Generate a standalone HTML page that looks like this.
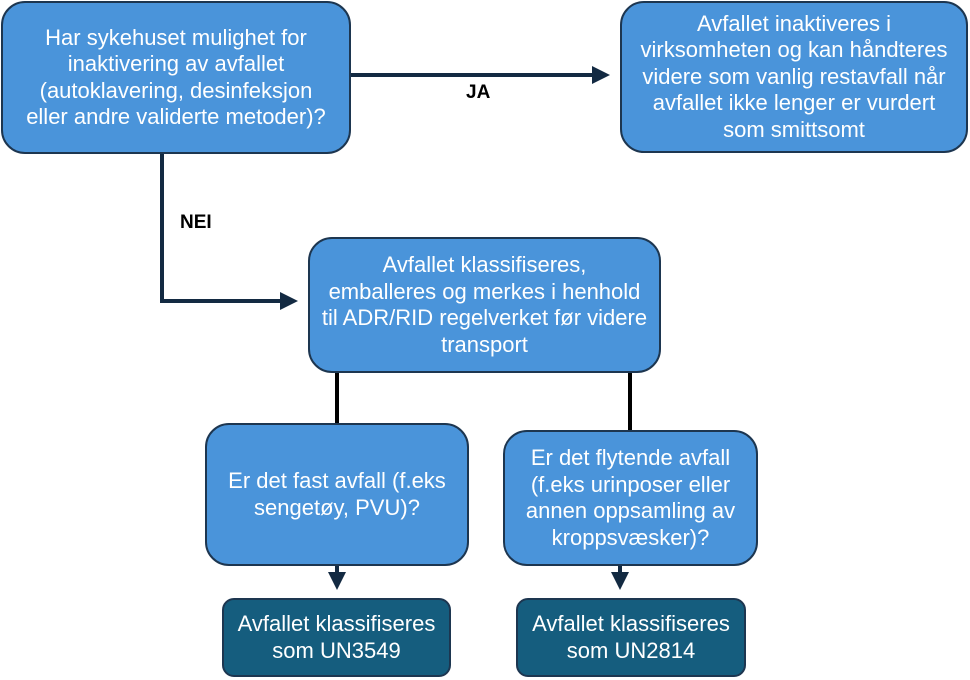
<!DOCTYPE html>
<html><head><meta charset="utf-8"><style>
body{margin:0;width:970px;height:680px;background:#fff;position:relative;overflow:hidden;font-family:"Liberation Sans",sans-serif}
.b{position:absolute;box-sizing:border-box;background:#4a94da;border:2px solid #1d3650;border-radius:24px;color:#fff;display:flex;align-items:center;justify-content:center;text-align:center;font-size:22px;line-height:26.5px;white-space:nowrap}
.d{background:#155d7e;border-radius:12px}
.l{position:absolute;font-weight:bold;font-size:19px;color:#000}
</style></head><body>
<svg width="970" height="680" style="position:absolute;left:0;top:0">
<defs><marker id="a" markerWidth="4.5" markerHeight="4.5" refX="3.5" refY="2.25" orient="auto"><path d="M0,0L4.5,2.25L0,4.5z" fill="#132a42"/></marker></defs>
<g stroke="#132a42" stroke-width="4" fill="none">
<path d="M350,75H606" marker-end="url(#a)"/>
<path d="M162,152V301H294" marker-end="url(#a)"/>
<path d="M337,565V586" marker-end="url(#a)"/>
<path d="M620,565V586" marker-end="url(#a)"/>
</g>
<g stroke="#000" stroke-width="4"><path d="M337,372V426M630,372V432"/></g>
</svg>
<div class="b" style="left:1px;top:1px;width:350px;height:153px">Har sykehuset mulighet for<br>inaktivering av avfallet<br>(autoklavering, desinfeksjon<br>eller andre validerte metoder)?</div>
<div class="b" style="left:620px;top:1px;width:348px;height:152px">Avfallet inaktiveres i<br>virksomheten og kan håndteres<br>videre som vanlig restavfall når<br>avfallet ikke lenger er vurdert<br>som smittsomt</div>
<div class="b" style="left:308px;top:237px;width:353px;height:136px">Avfallet klassifiseres,<br>emballeres og merkes i henhold<br>til ADR/RID regelverket før videre<br>transport</div>
<div class="b" style="left:205px;top:423px;width:264px;height:143px">Er det fast avfall (f.eks<br>sengetøy, PVU)?</div>
<div class="b" style="left:503px;top:430px;width:255px;height:136px">Er det flytende avfall<br>(f.eks urinposer eller<br>annen oppsamling av<br>kroppsvæsker)?</div>
<div class="b d" style="left:222px;top:598px;width:229px;height:79px">Avfallet klassifiseres<br>som UN3549</div>
<div class="b d" style="left:516px;top:598px;width:230px;height:79px">Avfallet klassifiseres<br>som UN2814</div>
<div class="l" style="left:466px;top:82px">JA</div>
<div class="l" style="left:180px;top:212px">NEI</div>
</body></html>
